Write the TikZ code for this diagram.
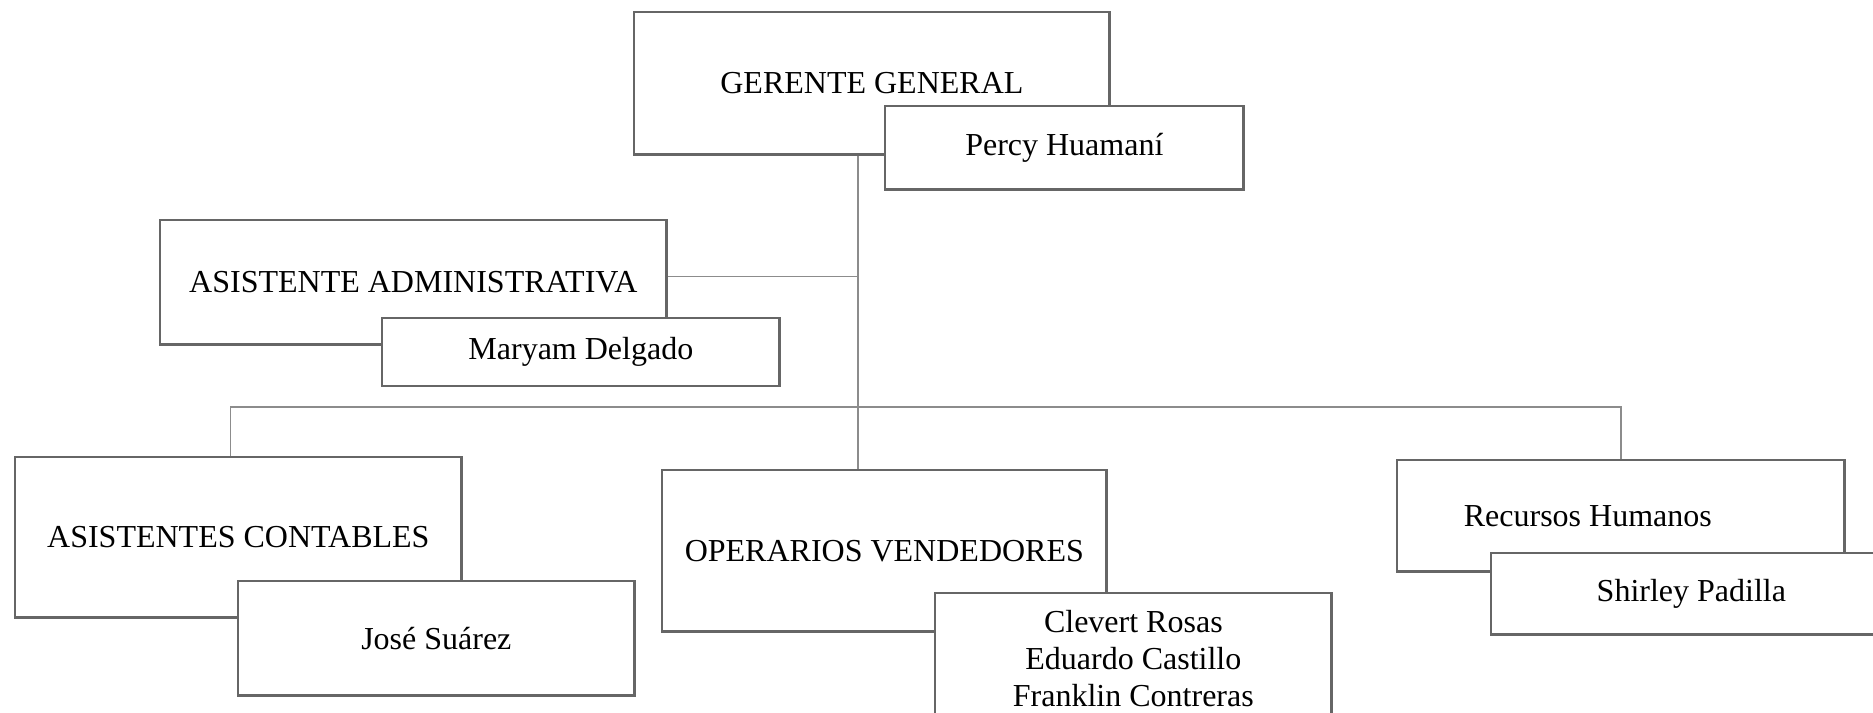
\documentclass[tikz,border=0pt]{standalone}
\usepackage{fontspec}
\setmainfont{Liberation Serif}
\definecolor{boxgray}{HTML}{666666}
\definecolor{linegray}{HTML}{8C8C8C}

\begin{document}
\begin{tikzpicture}[x=0.01cm, y=-0.01cm,
    box/.style={draw=boxgray, line width=0.7pt, fill=white, anchor=north west,
        inner sep=0pt, align=center, font=\fontsize{9.1}{10.5}\selectfont},
    link/.style={draw=linegray, line width=0.4pt}]
    \useasboundingbox (0,0) rectangle (1873,713);
    \clip (0,0) rectangle (1873,713);

    % Top
    \node[box, minimum width=4.75cm, minimum height=1.42cm] (gerente) at (633,11) {GERENTE GENERAL};
    \node[box, minimum width=3.58cm, minimum height=0.83cm] (percy) at (884,105) {Percy Huamaní};

    % Staff
    \node[box, minimum width=5.06cm, minimum height=1.24cm] (admin) at (159,219) {ASISTENTE ADMINISTRATIVA};
    \node[box, minimum width=3.97cm, minimum height=0.68cm] (maryam) at (381,317) {Maryam Delgado};

    % Areas
    \node[box, minimum width=4.46cm, minimum height=1.60cm] (contables) at (14,456) {ASISTENTES CONTABLES};
    \node[box, minimum width=3.96cm, minimum height=1.14cm] (jose) at (237,580) {José Suárez};

    \node[box, minimum width=4.44cm, minimum height=1.61cm] (operarios) at (661,469) {OPERARIOS VENDEDORES};
    \node[box, minimum width=3.96cm, inner ysep=0.17cm] (vendedores) at (934,592)
        {Clevert Rosas\\Eduardo Castillo\\Franklin Contreras\\[2pt]};

    \node[box, minimum width=4.47cm, minimum height=1.11cm] (rrhh) at (1396,459) {Recursos Humanos\hspace*{0.66cm}};
    \node[box, minimum width=4.00cm, minimum height=0.81cm] (shirley) at (1490,552) {Shirley Padilla};

    % Lines
    \coordinate (trunk) at (858,0);
    \coordinate (bus) at (858,407);
    \draw[link] (gerente.south -| trunk) -- (operarios.north -| trunk);
    \draw[link] ([yshift=0.06cm]admin.east) -- ([yshift=0.06cm]admin.east -| trunk);
    \draw[link] ([xshift=-0.08cm]contables.north) |- (bus) -| (rrhh.north);
\end{tikzpicture}
\end{document}
